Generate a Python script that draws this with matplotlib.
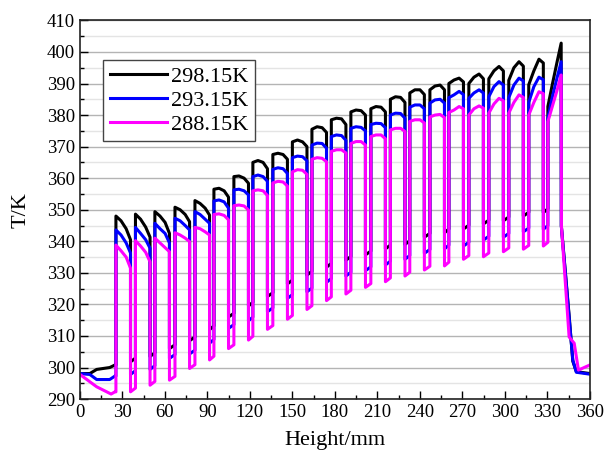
import numpy as np
import matplotlib.pyplot as plt
from matplotlib.ticker import MultipleLocator

plt.rcParams['font.family'] = ['Liberation Serif', 'DejaVu Serif']

# fin positions (mm)
fin_start = [25.4, 39.2, 52.9, 67.1, 81.2, 94.6, 108.7, 122.1, 136.2, 150.0, 163.8, 177.5,
             191.3, 205.4, 219.2, 232.9, 247.1, 260.5, 274.6, 288.7, 302.8, 316.9, 330.4]
fin_end = [35.7, 49.5, 63.2, 77.4, 91.5, 104.9, 119.0, 132.4, 146.5, 160.3, 174.1, 187.8,
           201.6, 215.7, 229.5, 243.2, 257.4, 270.8, 284.9, 299.0, 313.1, 327.2, 339.8]

# top profile of each fin: start, 35%, 70%, end (K)
top_298 = [[348.0, 346.5, 344.0, 340.5], [348.6, 347.0, 344.5, 341.3], [349.4, 348.0, 346.0, 342.5],
           [350.8, 350.0, 348.5, 346.2], [352.9, 352.0, 350.5, 348.3], [356.5, 356.8, 356.0, 354.0],
           [360.5, 360.7, 360.0, 358.4], [365.0, 365.6, 365.0, 363.0], [367.5, 367.9, 367.5, 366.0],
           [371.5, 372.1, 371.5, 370.0], [375.5, 376.3, 376.0, 374.5], [378.5, 379.0, 378.8, 377.0],
           [381.0, 381.6, 381.4, 380.0], [382.0, 382.7, 382.5, 381.0], [385.0, 385.8, 385.6, 384.0],
           [387.0, 388.0, 388.0, 386.5], [388.0, 389.2, 389.5, 388.0], [390.0, 391.1, 391.7, 390.5],
           [390.0, 392.0, 393.0, 391.5], [391.5, 394.0, 395.4, 394.0], [391.0, 395.0, 396.9, 395.5],
           [389.6, 394.0, 397.7, 396.5], [382.7, 390.0, 397.0, 402.8]]
top_293 = [[343.6, 342.0, 339.5, 336.3], [344.4, 342.5, 340.5, 337.8], [345.7, 344.0, 342.5, 339.5],
           [347.3, 346.5, 345.0, 343.6], [349.4, 348.5, 347.0, 345.7], [352.8, 353.1, 352.5, 350.5],
           [356.3, 356.5, 356.0, 354.7], [360.5, 361.0, 360.5, 359.0], [362.8, 363.3, 363.0, 361.5],
           [366.5, 367.0, 366.8, 365.5], [370.5, 371.1, 371.0, 369.5], [373.2, 373.7, 373.5, 372.0],
           [375.8, 376.3, 376.1, 375.0], [377.0, 377.4, 377.3, 376.0], [380.0, 380.6, 380.5, 379.0],
           [382.5, 383.2, 383.2, 382.0], [383.8, 384.8, 385.0, 383.8], [385.5, 386.4, 387.5, 386.5],
           [385.3, 387.0, 388.0, 387.0], [385.8, 389.0, 390.6, 389.5], [385.5, 389.5, 391.7, 390.8],
           [384.0, 389.0, 392.0, 391.2], [379.0, 386.0, 392.0, 396.9]]
top_288 = [[338.8, 337.0, 335.0, 331.5], [340.2, 338.5, 336.5, 333.5], [341.0, 339.5, 338.0, 336.7],
           [342.7, 342.0, 341.0, 339.9], [344.4, 344.0, 343.0, 342.0], [348.5, 348.7, 348.2, 346.8],
           [351.3, 351.5, 351.2, 349.9], [356.0, 356.3, 356.0, 354.5], [358.5, 359.0, 358.8, 357.5],
           [362.0, 362.7, 362.5, 361.2], [366.0, 366.5, 366.3, 365.2], [368.5, 369.0, 369.0, 368.0],
           [371.0, 371.6, 371.6, 370.5], [373.2, 373.7, 373.7, 372.5], [375.3, 375.8, 375.8, 374.8],
           [378.0, 378.5, 378.5, 377.5], [379.4, 380.0, 380.2, 379.2], [380.8, 381.6, 382.7, 382.0],
           [380.0, 382.0, 382.9, 382.2], [380.6, 383.5, 385.3, 384.5], [380.6, 384.0, 386.4, 385.6],
           [380.0, 384.0, 387.4, 386.8], [377.9, 383.0, 388.0, 392.7]]

# valley bottoms between fins (K)
valley_298 = [301.8, 303.5, 306.0, 308.5, 312.0, 316.0, 319.5, 322.5, 326.5, 329.3, 331.8,
              334.0, 335.7, 337.6, 339.0, 341.3, 342.7, 343.9, 345.5, 346.5, 348.0, 349.1]
valley_293 = [297.8, 299.4, 302.9, 304.3, 307.7, 312.4, 314.8, 317.7, 321.9, 324.0, 327.0,
              329.0, 330.7, 332.5, 334.3, 336.2, 337.6, 338.5, 340.4, 341.3, 343.0, 343.8]
valley_288 = [292.3, 294.4, 296.0, 299.7, 302.4, 306.0, 308.7, 312.1, 315.3, 318.4, 321.2,
              323.3, 325.4, 327.2, 329.0, 330.9, 332.2, 334.3, 335.1, 336.7, 337.5, 338.5]
VALLEY_RISE = 1.2

# entrance and exit sections
lead_298 = ([0, 7, 11.8, 21, 24.7, 25.4], [298.1, 298.1, 299.4, 300.0, 300.8, 300.8])
lead_293 = ([0, 7, 11.8, 21, 24.7, 25.4], [298.1, 297.8, 296.2, 296.2, 297.3, 297.3])
lead_288 = ([0, 11.8, 22, 24.7, 25.4], [297.8, 293.9, 291.6, 292.3, 292.3])
tail_298 = ([339.9, 345.5, 348, 350.5, 360], [345.0, 316.0, 302.0, 298.7, 298.1])
tail_293 = ([339.9, 345.5, 348, 350.5, 360], [344.8, 315.5, 302.4, 298.5, 297.9])
tail_288 = ([340.0, 345.4, 349, 352, 360], [344.6, 309.7, 307.7, 299.2, 300.8])

labels = ['298.15K', '293.15K', '288.15K']
colors = ['#000000', '#0000ff', '#ff00ff']


def build(lead, top, valley, tail):
    xs, ys = list(lead[0]), list(lead[1])
    n = len(fin_start)
    for k in range(n):
        x0, x1 = fin_start[k], fin_end[k]
        for f, v in zip([0, 0.35, 0.7, 1.0], top[k]):
            xs.append(x0 + f * (x1 - x0))
            ys.append(v)
        if k < n - 1:
            xs += [x1, fin_start[k + 1]]
            ys += [valley[k], valley[k] + VALLEY_RISE]
    xs += list(tail[0])
    ys += list(tail[1])
    return xs, ys


fig = plt.figure(figsize=(6.15, 4.53), dpi=100)
ax = fig.add_axes([0.130, 0.119, 0.829, 0.836])

series = [(lead_298, top_298, valley_298, tail_298),
          (lead_293, top_293, valley_293, tail_293),
          (lead_288, top_288, valley_288, tail_288)]
for (ld, tp, vl, tl), lab, c in zip(series, labels, colors):
    x, y = build(ld, tp, vl, tl)
    ax.plot(x, y, color=c, lw=2.2, label=lab, solid_joinstyle='round')

ax.set_xlim(0, 360)
ax.set_ylim(290, 410)
ax.xaxis.set_major_locator(MultipleLocator(30))
ax.xaxis.set_minor_locator(MultipleLocator(15))
ax.yaxis.set_major_locator(MultipleLocator(10))
ax.yaxis.set_minor_locator(MultipleLocator(5))
ax.yaxis.grid(True, which='major', color='#b4b4b4', lw=1.0)
ax.yaxis.grid(True, which='minor', color='#e4e4e4', lw=1.0)
ax.set_axisbelow(True)
ax.tick_params(which='both', direction='in', top=False, right=False, labelsize=13.5, width=1.0)
ax.tick_params(which='major', length=6)
ax.tick_params(which='minor', length=3)
for s in ax.spines.values():
    s.set_linewidth(1.2)
    s.set_color('#222222')

ax.set_xlabel('Height/mm', fontsize=16, labelpad=7)
ax.set_ylabel('T/K', fontsize=16, labelpad=12)

leg = ax.legend(loc='upper left', bbox_to_anchor=(0.045, 0.896), borderaxespad=0,
                fontsize=16, fancybox=False, framealpha=1, edgecolor='#444444',
                handlelength=2.6, handletextpad=0.15, labelspacing=0.15, borderpad=0.3)
leg.get_frame().set_linewidth(1.0)

fig.savefig('out.png', dpi=100)
